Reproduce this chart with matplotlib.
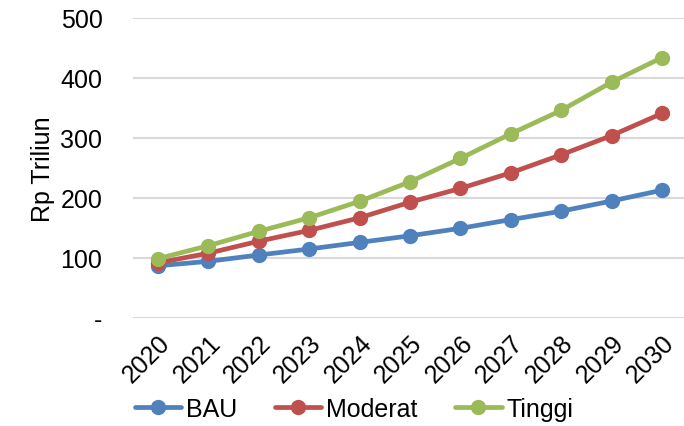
import matplotlib
matplotlib.use("Agg")
import matplotlib.pyplot as plt
from matplotlib.ticker import FixedLocator, FuncFormatter

plt.rcParams['font.family'] = ['Liberation Sans', 'DejaVu Sans']

years = ['2020', '2021', '2022', '2023', '2024', '2025', '2026', '2027', '2028', '2029', '2030']
bau = [87, 94.5, 105, 115, 126, 137, 149.5, 164, 178, 195, 213]
moderat = [92, 108, 128, 146, 167, 193, 216, 242, 272, 304, 341]
tinggi = [99, 120.5, 144.5, 167, 194.5, 227, 266, 307, 346, 393, 434]
yticks = [0, 100, 200, 300, 400, 500]

series = [('BAU', bau, '#4F81BD'), ('Moderat', moderat, '#C0504D'), ('Tinggi', tinggi, '#9BBB59')]

fig = plt.figure(figsize=(6.84, 4.27), dpi=100)
ax = fig.add_axes([133/684, 1-319/427, 551/684, 300/427])
x = list(range(len(years)))
for name, vals, col in series:
    ax.plot(x, vals, color=col, lw=3.4, marker='o', markersize=10, label=name,
            solid_capstyle='round', zorder=3)

ax.set_ylim(0, 500)
ax.set_xlim(-0.496, 10.437)
ax.yaxis.set_major_locator(FixedLocator(yticks))
ax.yaxis.set_major_formatter(FuncFormatter(lambda v, p: '-' if v == 0 else f'{int(v)}'))
ax.set_xticks(x)
ax.set_xticklabels(years, rotation=45, ha='right', rotation_mode='anchor')
ax.grid(axis='y', color='#d9d9d9', lw=1.5, zorder=0)
for s in ax.spines.values():
    s.set_visible(False)
ax.tick_params(axis='both', length=0, labelsize=18, colors='black')
ax.tick_params(axis='y', pad=22)
ax.tick_params(axis='x', pad=9)
ax.set_ylabel('Rp Triliun', fontsize=18, labelpad=4)

leg = fig.legend(loc='center', bbox_to_anchor=(0.518, 1-410/427), ncol=3, frameon=False,
                 fontsize=18, handlelength=1.85, handletextpad=0.2, columnspacing=1.5,
                 borderaxespad=0)

fig.savefig('out.png', dpi=100)
